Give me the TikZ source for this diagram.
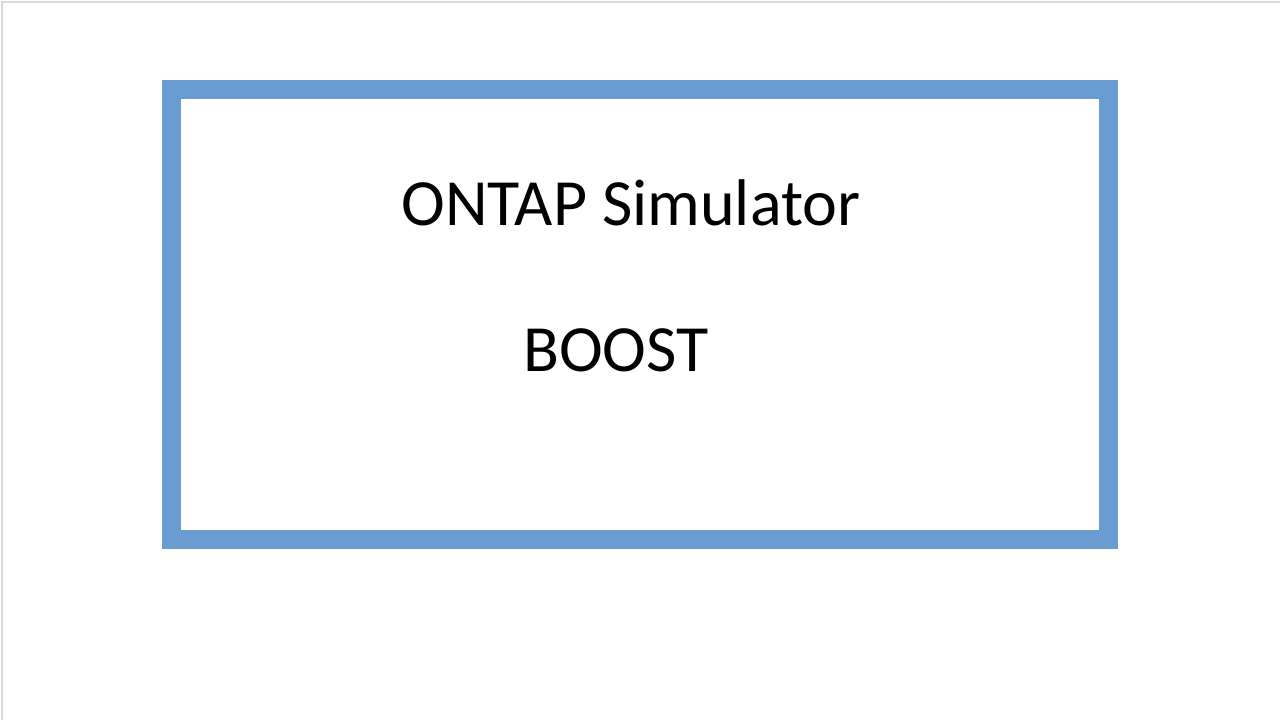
\documentclass[tikz,border=0pt]{standalone}
\usepackage{fontspec}
\setmainfont{Carlito}
\definecolor{frameblue}{HTML}{6A9BD1}
\begin{document}
\begin{tikzpicture}[x=1pt,y=1pt,
  lbl/.style={inner sep=0pt,font=\fontsize{66}{70}\selectfont,text=black}]
\useasboundingbox (0,0) rectangle (1280,720);
\fill[white] (0,0) rectangle (1280,720);
\draw[gray!30,line width=1.5pt] (2,0) -- (2,718) -- (1280,718);
\node[draw=frameblue,line width=19pt,minimum width=937pt,minimum height=450pt,inner sep=0pt] (frame) at (640,405.5) {};
\node[lbl] (t1) at (631,517) {ONTAP Simulator};
\node[lbl] (t2) at (616,370) {BOOST};
\end{tikzpicture}
\end{document}
